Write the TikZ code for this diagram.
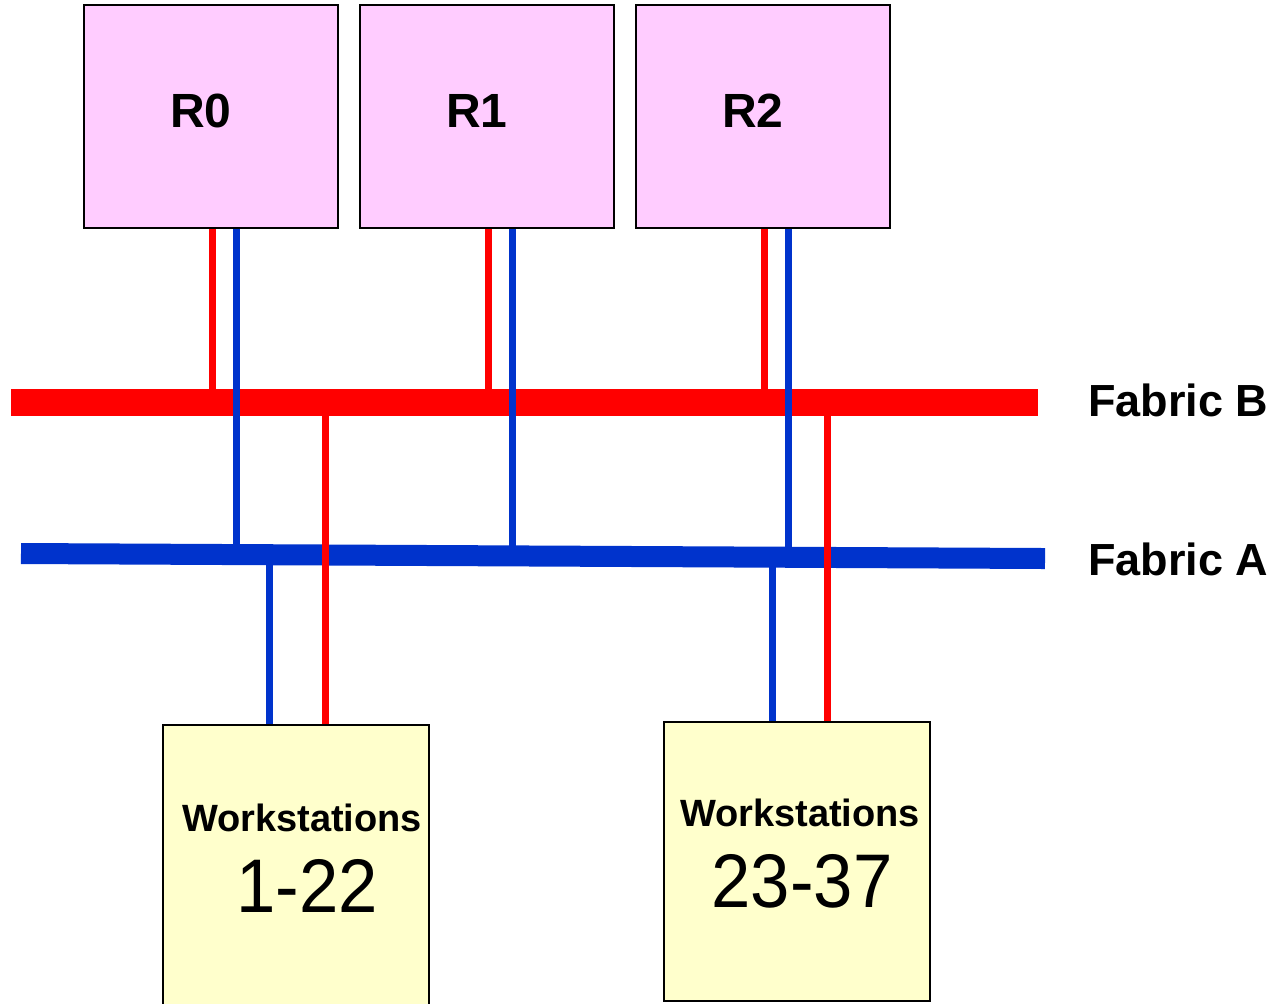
\documentclass[tikz,border=0pt]{standalone}
\usepackage{fontspec}
\setmainfont{Liberation Sans}
\newfontfamily\numfont[FakeStretch=0.93]{Liberation Sans}
\usepackage{tikz}
\usetikzlibrary{calc,positioning}

\definecolor{fabred}{RGB}{255,0,0}
\definecolor{fabblue}{RGB}{0,51,204}
\definecolor{rackpink}{RGB}{255,204,255}
\definecolor{wsyellow}{RGB}{255,255,204}

\tikzset{
	rack/.style={draw=black,line width=1pt,fill=rackpink,inner sep=0pt,
		minimum width=127pt,minimum height=111.5pt},
	wsbox/.style={draw=black,line width=1pt,fill=wsyellow,inner sep=0pt,
		minimum width=133pt},
	racktext/.style={inner sep=0pt,font=\fontsize{24}{28}\selectfont\bfseries},
	wstext/.style={inner sep=0pt,font=\fontsize{19}{22}\selectfont\bfseries},
	wsnum/.style={inner sep=0pt,font=\numfont\fontsize{38}{44}\selectfont},
	fabtext/.style={inner sep=0pt,anchor=west,font=\fontsize{22.5}{26}\selectfont\bfseries},
	redlink/.style={fabred,line width=3.5pt},
	bluelink/.style={fabblue,line width=3.5pt}
}

\begin{document}
\begin{tikzpicture}[x=0.5pt,y=-0.5pt]
	\useasboundingbox (0,0) rectangle (1277,1003);
	
	% racks on top
	\node[rack,label={[racktext,xshift=-5pt,yshift=3pt]center:R0}] (R0) at (211,116.5) {};
	\node[rack,right=10pt of R0,label={[racktext,xshift=-5pt,yshift=3pt]center:R1}] (R1) {};
	\node[rack,right=10pt of R1,label={[racktext,xshift=-5pt,yshift=3pt]center:R2}] (R2) {};
	
	% the two fabrics
	\coordinate (fbL) at (11,402.5);
	\coordinate (fbR) at (1038,402.5);
	\coordinate (faL) at (21,553.5);
	\coordinate (faR) at (1045,558.5);
	
	% ports of the racks
	\foreach \r in {R0,R1,R2}{
		\coordinate (\r red) at ($(\r.south)+(1,0)$);
		\coordinate (\r blue) at ($(\r.south)+(25.5,0)$);
		\draw[redlink] (\r red) -- (\r red |- fbL);
	}
	
	\draw[fabred,line width=13.5pt] (fbL) -- (fbR);
	
	\foreach \r in {R0,R1,R2}
		\draw[bluelink] (\r blue) -- (\r blue |- faL);
	
	\draw[fabblue,line width=10.5pt] (faL) -- (faR);
	
	\node[fabtext] (fabB) at (1088,400) {Fabric B};
	\node[fabtext] (fabA) at (1088,559) {Fabric A};
	
	% workstations
	\node[wsbox,minimum height=142.5pt,
		label={[wstext,xshift=3pt,yshift=25pt]center:Workstations},
		label={[wsnum,xshift=5.5pt,yshift=-9pt]center:1-22}] (ws1) at (296,867.5) {};
	\node[wsbox,minimum height=139.5pt,
		label={[wstext,xshift=1.75pt,yshift=24.25pt]center:Workstations},
		label={[wsnum,xshift=2.75pt,yshift=-9.75pt]center:23-37}] (ws2) at (796.5,861.5) {};
	
	\coordinate (ws1blue) at ($(ws1.north)+(-27,0)$);
	\coordinate (ws1red) at ($(ws1.north)+(29,0)$);
	\coordinate (ws2blue) at ($(ws2.north)+(-24.5,0)$);
	\coordinate (ws2red) at ($(ws2.north)+(30.5,0)$);
	
	\draw[bluelink] (ws1blue) -- (ws1blue |- faL);
	\draw[bluelink] (ws2blue) -- (ws2blue |- faL);
	\draw[redlink] (ws1red) -- (ws1red |- fbL);
	\draw[redlink] (ws2red) -- (ws2red |- fbL);
\end{tikzpicture}
\end{document}
